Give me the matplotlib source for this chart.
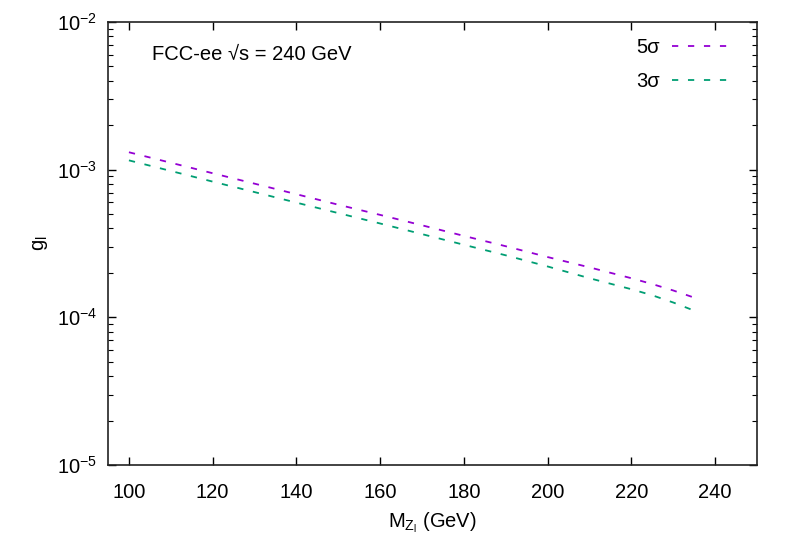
import matplotlib
matplotlib.use("Agg")
import matplotlib.pyplot as plt
from matplotlib.ticker import LogLocator, NullFormatter, FixedLocator

plt.rcParams['font.family'] = ['Liberation Sans', 'DejaVu Sans']
plt.rcParams['mathtext.default'] = 'regular'
plt.rcParams['lines.scale_dashes'] = False

mass = [100, 110, 120, 130, 140, 150, 160, 170, 180, 190, 200, 210, 220, 225, 230, 235]
g_5sigma = [1.312e-3, 1.114e-3, 9.46e-4, 8.04e-4, 6.82e-4, 5.79e-4, 4.94e-4, 4.20e-4,
            3.56e-4, 3.03e-4, 2.56e-4, 2.18e-4, 1.84e-4, 1.68e-4, 1.52e-4, 1.36e-4]
g_3sigma = [1.156e-3, 9.80e-4, 8.30e-4, 7.05e-4, 5.98e-4, 5.08e-4, 4.32e-4, 3.66e-4,
            3.10e-4, 2.63e-4, 2.21e-4, 1.84e-4, 1.55e-4, 1.41e-4, 1.26e-4, 1.11e-4]
xticks = [100, 120, 140, 160, 180, 200, 220, 240]

fig = plt.figure(figsize=(7.97, 5.58), dpi=100)
ax = fig.add_axes([108/797, 1-465/558, (757-108)/797, (465-22)/558])

dash = (4.5, 7.0)
ax.plot(mass, g_5sigma, color='#9400D3', lw=1.3, dashes=dash, label='5σ')
ax.plot(mass, g_3sigma, color='#009E73', lw=1.3, dashes=dash, label='3σ')

ax.set_yscale('log')
ax.set_xlim(95, 250)
ax.set_ylim(1e-5, 1e-2)
ax.xaxis.set_major_locator(FixedLocator(xticks))
ax.yaxis.set_major_locator(LogLocator(base=10, numticks=10))
ax.yaxis.set_minor_locator(LogLocator(base=10, subs=range(2, 10), numticks=10))
ax.yaxis.set_minor_formatter(NullFormatter())

ax.tick_params(which='both', direction='in', top=True, right=True, labelsize=14.5)
ax.tick_params(axis='x', which='major', pad=13)
ax.tick_params(axis='y', which='major', pad=8)
ax.tick_params(which='major', length=6, width=1)
ax.tick_params(which='minor', length=3.5, width=0.8)
for s in ax.spines.values():
    s.set_linewidth(1.2)
    s.set_color('#222222')

ax.set_xlabel('$M_{Z_l}$ (GeV)', fontsize=14.5, labelpad=6)
ax.set_ylabel('$g_l$', fontsize=14.5, labelpad=5)

ax.text(152/797, 1-55/558, 'FCC-ee √s = 240 GeV', transform=fig.transFigure,
        fontsize=14.5, va='center', ha='left')

leg = ax.legend(loc='upper right', frameon=False, markerfirst=False, fontsize=14.5,
                handlelength=3.0, handletextpad=0.6, labelspacing=0.75,
                bbox_to_anchor=(0.99, 1.004))

fig.savefig('out.png', dpi=100)
